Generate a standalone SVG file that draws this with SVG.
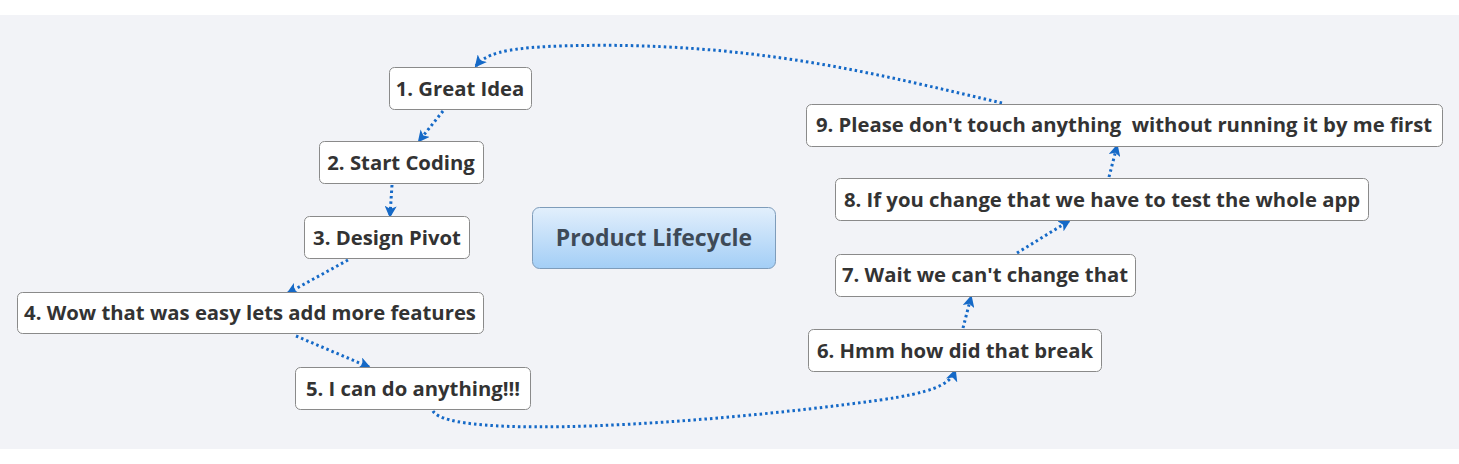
<svg xmlns="http://www.w3.org/2000/svg" width="1459" height="464" viewBox="0 0 1459 464">
<style>
.box{fill:#fff;stroke:#8a8a8a;stroke-width:1}
.t{font-family:"Open Sans","Liberation Sans",sans-serif;font-weight:bold;font-size:20.3px;fill:#333;text-anchor:middle;dominant-baseline:central}
.ct{font-family:"Open Sans","Liberation Sans",sans-serif;font-weight:bold;font-size:23px;fill:#3e4a57;text-anchor:middle;dominant-baseline:central}
.c{fill:none;stroke:#1569c7;stroke-width:3;stroke-dasharray:2.5 3}
</style>
<defs>
<linearGradient id="g" x1="0" y1="0" x2="0" y2="1">
<stop offset="0" stop-color="#e2effc"/>
<stop offset="1" stop-color="#a3cef6"/>
</linearGradient>
<marker id="a" viewBox="0 0 12 12" refX="10" refY="6" markerWidth="12" markerHeight="12" markerUnits="userSpaceOnUse" orient="auto">
<path d="M0,0 L12,6 L0,12 L3,6 z" fill="#1569c7"/>
</marker>
</defs>
<rect x="0" y="0" width="1459" height="464" fill="#fff"/>
<rect x="0" y="15" width="1459" height="434" fill="#f2f3f7"/>
<g id="connectors">
<path class="c" d="M443,111 L419,141" marker-end="url(#a)"/>
<path class="c" d="M392,185 L390,216" marker-end="url(#a)"/>
<path class="c" d="M348,260 L288,293" marker-end="url(#a)"/>
<path class="c" d="M296,336 L369,367" marker-end="url(#a)"/>
<path class="c" d="M433,411 C450,440 700,425 880,400 C930,393 950,385 955,371" marker-end="url(#a)"/>
<path class="c" d="M963,328 L971,297" marker-end="url(#a)"/>
<path class="c" d="M1017,253 L1069,221" marker-end="url(#a)"/>
<path class="c" d="M1109,177 L1117,146" marker-end="url(#a)"/>
<path class="c" d="M1002,103 C880,75 750,40 560,46 C500,48 485,55 476,66" marker-end="url(#a)"/>
</g>
<g id="center"><rect x="532.5" y="207.5" width="243" height="61" rx="7" fill="url(#g)" stroke="#7e9cba"/><text class="ct" x="654" y="237">Product Lifecycle</text></g>
<g id="n1"><rect class="box" x="389.5" y="67.5" width="142" height="42" rx="5"/><text class="t" x="460" y="88">1. Great Idea</text></g>
<g id="n2"><rect class="box" x="319.5" y="141.5" width="164" height="42" rx="5"/><text class="t" x="401" y="162">2. Start Coding</text></g>
<g id="n3"><rect class="box" x="304.5" y="216.5" width="165" height="42" rx="5"/><text class="t" x="387" y="237">3. Design Pivot</text></g>
<g id="n4"><rect class="box" x="17.5" y="292.5" width="466" height="41" rx="5"/><text class="t" x="250" y="312">4. Wow that was easy lets add more features</text></g>
<g id="n5"><rect class="box" x="295.5" y="367.5" width="235" height="42" rx="5"/><text class="t" x="413" y="388">5. I can do anything!!!</text></g>
<g id="n6"><rect class="box" x="808.5" y="329.5" width="293" height="42" rx="5"/><text class="t" x="955" y="350">6. Hmm how did that break</text></g>
<g id="n7"><rect class="box" x="835.5" y="254.5" width="300" height="42" rx="5"/><text class="t" x="985" y="274">7. Wait we can't change that</text></g>
<g id="n8"><rect class="box" x="835.5" y="178.5" width="533" height="42" rx="5"/><text class="t" x="1102" y="199">8. If you change that we have to test the whole app</text></g>
<g id="n9"><rect class="box" x="806.5" y="104.5" width="636" height="42" rx="5"/><text class="t" x="1124" y="124" xml:space="preserve">9. Please don't touch anything  without running it by me first</text></g>
</svg>
